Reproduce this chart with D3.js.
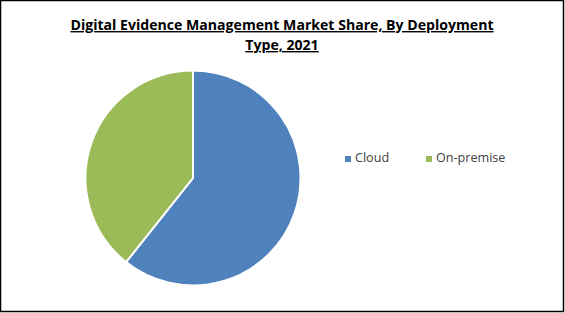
<!DOCTYPE html>
<html><head><meta charset="utf-8">
<script src="https://cdn.jsdelivr.net/npm/d3@7"></script>
<style>html,body{margin:0;padding:0;background:#fff;}svg{display:block;}</style>
</head><body>
<div id="chart"></div>
<script>
const categories = ["Cloud", "On-premise"];
const shares = [60.7, 39.3];
const colors = ["#4F81BD", "#9BBB59"];
const titleLines = ["Digital Evidence Management Market Share, By Deployment", "Type, 2021"];

const W = 565, H = 313;
const svg = d3.select("#chart").append("svg").attr("width", W).attr("height", H);
svg.append("rect").attr("x", 0).attr("y", 0).attr("width", W).attr("height", H).attr("fill", "#fff");
svg.append("rect").attr("x", 0.5).attr("y", 0.5).attr("width", W - 2).attr("height", H - 2)
  .attr("fill", "none").attr("stroke", "#000").attr("stroke-width", 1.5);

const font = "Open Sans, Noto Sans, sans-serif";
const title = svg.append("text").attr("text-anchor", "middle")
  .attr("font-family", font).attr("font-weight", "bold").attr("font-size", 14.1)
  .attr("fill", "#000").attr("text-decoration", "underline");
titleLines.forEach((t, i) => {
  title.append("tspan").attr("x", 282).attr("y", 30 + i * 20).text(t);
});

const cx = 193, cy = 178, r = 107.5;
const pie = d3.pie().sort(null).value(d => d)(shares);
const arc = d3.arc().innerRadius(0).outerRadius(r);
const g = svg.append("g").attr("transform", `translate(${cx},${cy})`);
g.selectAll("path").data(pie).join("path")
  .attr("d", arc).attr("fill", (d, i) => colors[i])
  .attr("stroke", "#fff").attr("stroke-width", 2);

const legendX = [345, 426];
const lg = svg.append("g");
categories.forEach((c, i) => {
  lg.append("rect").attr("x", legendX[i]).attr("y", 156).attr("width", 6).attr("height", 6).attr("fill", colors[i]);
  lg.append("text").attr("x", legendX[i] + 10).attr("y", 162)
    .attr("font-family", font).attr("font-size", 12.6).attr("fill", "#404040").text(c);
});
</script>
</body></html>
